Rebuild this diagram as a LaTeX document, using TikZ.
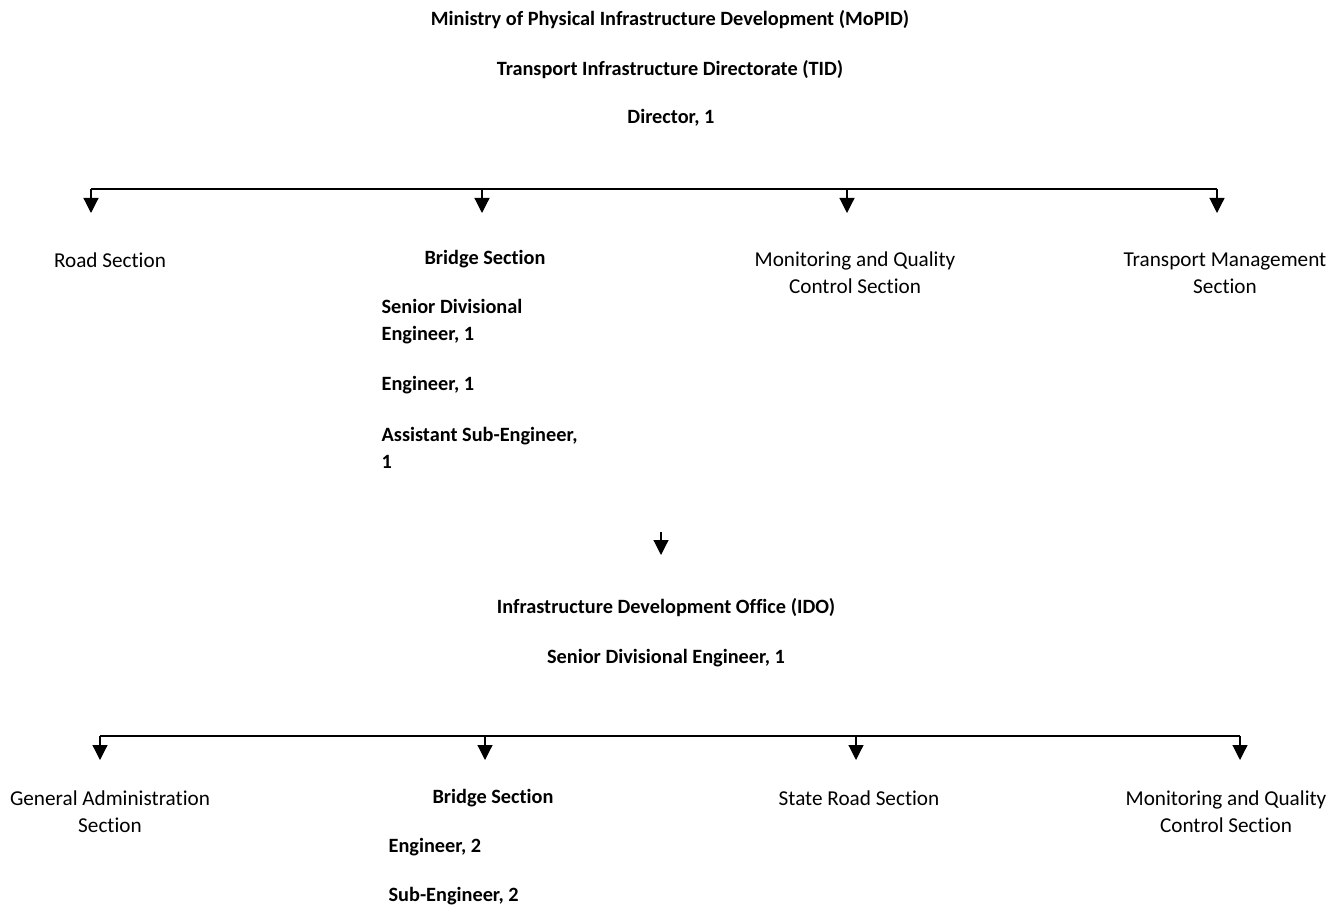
\documentclass[tikz,border=0pt]{standalone}
\usepackage{fontspec}
\setmainfont{Carlito}[Ligatures={NoCommon}]
\usetikzlibrary{arrows.meta,positioning}

\begin{document}
\begin{tikzpicture}[x=1pt,y=-1pt,>={Triangle[width=15pt,length=15pt]},
        line width=1.2pt,
        unit/.style={font=\fontsize{21.2}{27}\selectfont,align=center,inner sep=0pt},
        head/.style={unit,font=\bfseries\fontsize{20.3}{27}\selectfont},
        staff/.style={head,align=left,anchor=west}]
  \useasboundingbox (0,0) rectangle (1341,909);

  % directorate
  \node[head] (mopid) at (670,20)  {Ministry of Physical Infrastructure Development (MoPID)};
  \node[head] (tid)   at (670,70)  {Transport Infrastructure Directorate (TID)};
  \node[head] (dir)   at (671,118) {Director, 1};

  \coordinate (busL) at (91,189);
  \coordinate (busR) at (1217,189);
  \draw (busL) -- (busR);
  \foreach \x/\n in {91/road,482/bridge,847/mqc,1217/tm}{
    \coordinate (d-\n) at (\x,189);
    \coordinate (t-\n) at (\x,213);
    \draw[->] (d-\n) -- (t-\n);
  }

  \node[unit] (road)   at (110,260) {Road Section};
  \node[head] (bridge) at (485,259) {Bridge Section};
  \node[unit] (mqc)    at (855,273) {Monitoring and Quality\\Control Section};
  \node[unit] (tm)     at (1225,273) {Transport Management\\Section};

  \node[staff] (sde)  at (381,322) {Senior Divisional\\Engineer, 1};
  \node[staff] (eng)  at (381,385) {Engineer, 1};
  \node[staff] (ase)  at (381,448) {Assistant Sub-Engineer,\\1};

  % district office
  \coordinate (ido-in)  at (661,532);
  \coordinate (ido-tip) at (661,555);
  \draw[->] (ido-in) -- (ido-tip);

  \node[head] (ido)  at (666,608) {Infrastructure Development Office (IDO)};
  \node[head] (sde2) at (666,658) {Senior Divisional Engineer, 1};

  \coordinate (bus2L) at (100,736);
  \coordinate (bus2R) at (1240,736);
  \draw (bus2L) -- (bus2R);
  \foreach \x/\n in {100/gad,485/bridge2,856/srs,1240/mqc2}{
    \coordinate (d-\n) at (\x,736);
    \coordinate (t-\n) at (\x,760);
    \draw[->] (d-\n) -- (t-\n);
  }

  \node[unit] (gad)     at (110,812)  {General Administration\\Section};
  \node[head] (bridge2) at (493,798)  {Bridge Section};
  \node[unit] (srs)     at (859,798)  {State Road Section};
  \node[unit] (mqc2)    at (1226,812) {Monitoring and Quality\\Control Section};

  \node[staff] (eng2) at (388,847) {Engineer, 2};
  \node[staff] (se2)  at (388,896) {Sub-Engineer, 2};
\end{tikzpicture}
\end{document}
